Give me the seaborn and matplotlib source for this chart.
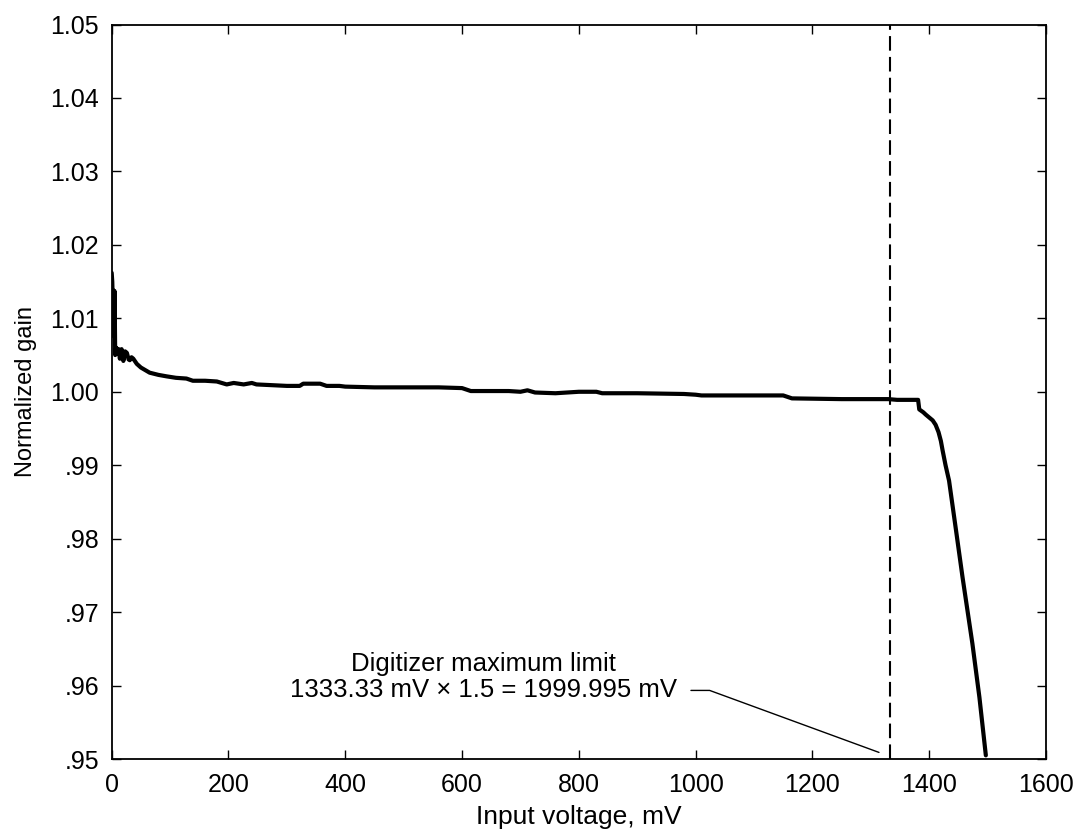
import matplotlib
matplotlib.use("Agg")
import matplotlib.pyplot as plt
import matplotlib.ticker as mticker
import seaborn as sns
import pandas as pd

# 数据：输入电压 (mV) 与归一化增益
voltage = [0, 1, 2, 3, 4, 5, 6, 7, 8, 10, 12, 14, 17, 20, 23, 26, 29, 31, 34, 37,
           43, 50, 65, 80, 94, 110, 128, 139, 160, 180, 197, 209, 226, 240, 248,
           300, 322, 328, 357, 368, 390, 400, 450, 500, 560, 600, 615, 680, 700,
           712, 725, 760, 800, 830, 840, 900, 980, 1000, 1010, 1100, 1150, 1165,
           1250, 1330, 1345, 1381, 1383, 1390, 1394, 1400, 1406, 1411, 1416, 1420,
           1423, 1428, 1434, 1446, 1457, 1474, 1486, 1497]
gain = [1.0162, 1.0150, 1.0120, 1.0138, 1.0075, 1.0137, 1.0050, 1.0058, 1.0060,
        1.0052, 1.0058, 1.0045, 1.0058, 1.0042, 1.0055, 1.0053, 1.0044, 1.0043,
        1.0047, 1.0045, 1.0038, 1.0033, 1.0026, 1.0023, 1.0021, 1.0019, 1.0018,
        1.0015, 1.0015, 1.0014, 1.0010, 1.0012, 1.0010, 1.0012, 1.0010, 1.0008,
        1.0008, 1.0011, 1.0011, 1.0008, 1.0008, 1.0007, 1.0006, 1.0006, 1.0006,
        1.0005, 1.0001, 1.0001, 1.0000, 1.0002, 0.9999, 0.9998, 1.0000, 1.0000,
        0.9998, 0.9998, 0.9997, 0.9996, 0.9995, 0.9995, 0.9995, 0.9991, 0.9990,
        0.9990, 0.9989, 0.9989, 0.9976, 0.9972, 0.9969, 0.9965, 0.9961, 0.9955,
        0.9945, 0.9933, 0.9920, 0.9900, 0.9879, 0.9811, 0.9748, 0.9657, 0.9584,
        0.9505]

limit_mv = 1333.33
x_ticks = [0, 200, 400, 600, 800, 1000, 1200, 1400, 1600]
y_ticks = [0.95, 0.96, 0.97, 0.98, 0.99, 1.00, 1.01, 1.02, 1.03, 1.04, 1.05]
note_text = "Digitizer maximum limit\n1333.33 mV \u00d7 1.5 = 1999.995 mV"
note_pos = (637, 0.9612)
leader_x = [992, 1024, 1314]
leader_y = [0.95934, 0.95934, 0.9509]

sns.set_style("ticks")
plt.rcParams['font.family'] = ['Liberation Sans', 'DejaVu Sans']
for key in ['text.color', 'axes.labelcolor', 'xtick.color', 'ytick.color']:
    plt.rcParams[key] = 'black'

df = pd.DataFrame({'voltage': voltage, 'gain': gain})

fig = plt.figure(figsize=(10.78, 8.34), dpi=100)
ax = fig.add_axes([0.1036, 0.0899, 0.8667, 0.8807])

sns.lineplot(data=df, x='voltage', y='gain', ax=ax, color='black',
             linewidth=3.0, sort=False, estimator=None)
ax.axvline(limit_mv, color='black', linewidth=1.5, dashes=(7, 3))

ax.plot(leader_x, leader_y, color='black', linewidth=1.0)
ax.text(note_pos[0], note_pos[1], note_text, ha='center', va='center',
        multialignment='center', fontsize=18.5, linespacing=1.1)

ax.set_xlim(0, 1600)
ax.set_ylim(0.95, 1.05)
ax.set_xticks(x_ticks)
ax.set_yticks(y_ticks)


def fmt_gain(v, pos):
    s = f"{v:.2f}"
    return s[1:] if s.startswith("0") else s


ax.yaxis.set_major_formatter(mticker.FuncFormatter(fmt_gain))
ax.tick_params(direction='in', length=6.5, width=1.0, labelsize=18,
               top=True, right=True)
ax.tick_params(axis='x', pad=10)
ax.tick_params(axis='y', pad=9)
for sp in ax.spines.values():
    sp.set_visible(True)
    sp.set_linewidth(1.3)
    sp.set_color('black')

ax.set_xlabel('Input voltage, mV', fontsize=19, labelpad=6)
ax.set_ylabel('Normalized gain', fontsize=17, labelpad=10)

fig.savefig('out.png', dpi=100)
